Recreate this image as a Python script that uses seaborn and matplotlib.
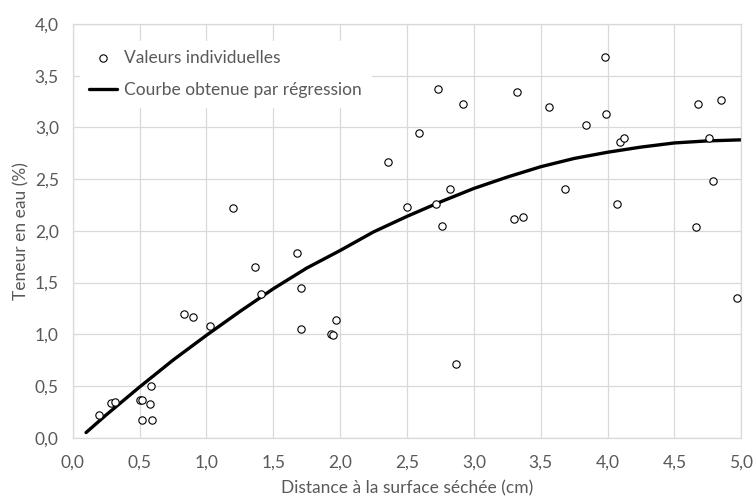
import numpy as np
import pandas as pd
import matplotlib
matplotlib.use("Agg")
import matplotlib.pyplot as plt
import seaborn as sns

dist = [0.20, 0.29, 0.32, 0.50, 0.52, 0.52, 0.58, 0.585, 0.59,
        0.83, 0.90, 1.03, 1.20, 1.36, 1.41, 1.68, 1.705, 1.71,
        1.93, 1.95, 1.97, 2.36, 2.50, 2.59, 2.72, 2.73, 2.76,
        2.82, 2.87, 2.92, 3.30, 3.32, 3.37, 3.56, 3.68, 3.84,
        3.98, 3.99, 4.07, 4.09, 4.12, 4.66, 4.68, 4.76, 4.79,
        4.85, 4.97]
teneur = [0.22, 0.34, 0.35, 0.36, 0.17, 0.36, 0.33, 0.50, 0.17,
          1.20, 1.17, 1.08, 2.22, 1.65, 1.39, 1.79, 1.445, 1.05,
          1.00, 0.99, 1.14, 2.67, 2.23, 2.95, 2.26, 3.375, 2.05,
          2.40, 0.71, 3.23, 2.115, 3.34, 2.13, 3.20, 2.40, 3.02,
          3.68, 3.13, 2.26, 2.86, 2.90, 2.04, 3.23, 2.90, 2.48,
          3.27, 1.35]

# regression curve
curve_x = [0.1, 0.25, 0.5, 0.75, 1.0, 1.25, 1.5, 1.75, 2.0, 2.25, 2.5,
           2.75, 3.0, 3.25, 3.5, 3.75, 4.0, 4.25, 4.5, 4.75, 5.0]
curve_y = [0.05, 0.22, 0.49, 0.75, 0.99, 1.22, 1.44, 1.64, 1.81, 1.99, 2.14,
           2.28, 2.41, 2.52, 2.62, 2.70, 2.76, 2.81, 2.85, 2.87, 2.88]

xticks = [0.0, 0.5, 1.0, 1.5, 2.0, 2.5, 3.0, 3.5, 4.0, 4.5, 5.0]
yticks = [0.0, 0.5, 1.0, 1.5, 2.0, 2.5, 3.0, 3.5, 4.0]

df = pd.DataFrame({"dist": dist, "teneur": teneur})
curve = pd.DataFrame({"x": curve_x, "y": curve_y})

sns.set_style("whitegrid")
plt.rcParams["font.family"] = ["Lato", "DejaVu Sans"]

text_col = "#595959"
grid_col = "#d9d9d9"
fs = 12.5

fig = plt.figure(figsize=(7.55, 4.97), dpi=100)
ax = fig.add_axes([0.0963, 0.1193, 0.8855, 0.8324])

sns.scatterplot(data=df, x="dist", y="teneur", ax=ax, marker="o", s=28,
                facecolor="white", edgecolor="black", linewidth=0.8,
                label="Valeurs individuelles", zorder=3)
sns.lineplot(data=curve, x="x", y="y", ax=ax, color="black", linewidth=2.4,
             label="Courbe obtenue par régression", zorder=2)

ax.set_xlim(0, 5)
ax.set_ylim(0, 4)
ax.set_xticks(xticks)
ax.set_yticks(yticks)
ax.set_xticklabels([f"{v:.1f}".replace(".", ",") for v in xticks])
ax.set_yticklabels([f"{v:.1f}".replace(".", ",") for v in yticks])
ax.tick_params(length=0, labelsize=fs, colors=text_col)
ax.tick_params(axis="y", pad=10)
ax.tick_params(axis="x", pad=12)
ax.grid(True, color=grid_col, linewidth=0.9)
for s in ax.spines.values():
    s.set_color(grid_col)
    s.set_linewidth(0.9)

ax.set_xlabel("Distance à la surface séchée (cm)", fontsize=fs, color=text_col, labelpad=7)
ax.set_ylabel("Teneur en eau (%)", fontsize=fs, color=text_col, labelpad=4)

leg = ax.legend(loc="upper left", bbox_to_anchor=(-0.002, 0.98), frameon=True,
                fontsize=fs, handlelength=1.6, handletextpad=0.45,
                borderpad=0.5, labelspacing=0.95)
leg.get_frame().set_facecolor("white")
leg.get_frame().set_edgecolor("white")
leg.get_frame().set_alpha(1)
for t in leg.get_texts():
    t.set_color(text_col)

fig.savefig("out.png", dpi=100)
